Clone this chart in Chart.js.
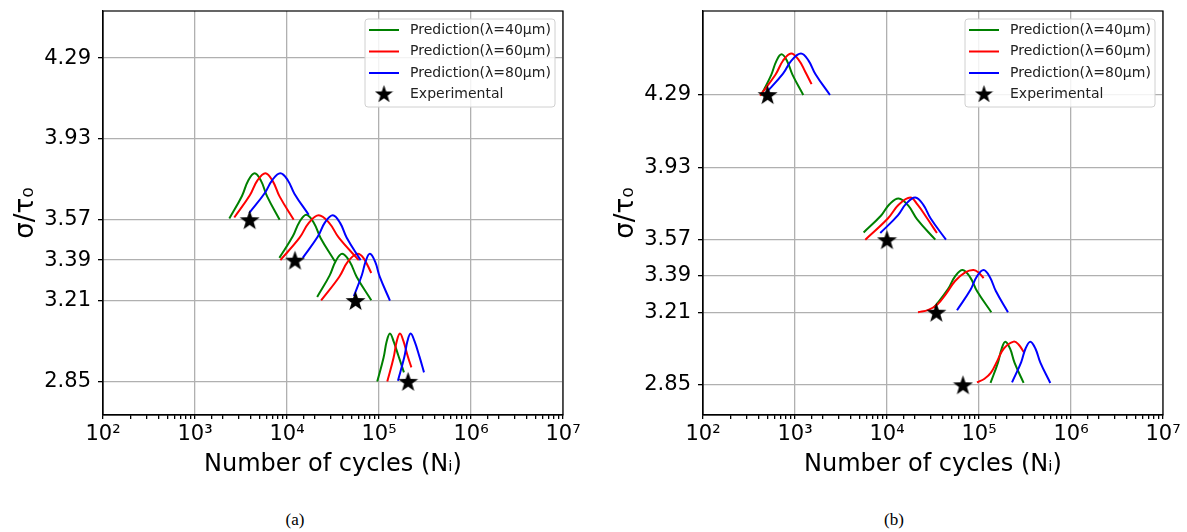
<!DOCTYPE html>
<html>
<head>
<meta charset="utf-8">
<script src="https://cdn.jsdelivr.net/npm/chart.js@4.4.1/dist/chart.umd.min.js"></script>
<style>
  body { margin: 0; background: #fff; }
  .wrap { position: absolute; top: 0; width: 593px; height: 482px; }
  .cap { position: absolute; top: 510px; font-family: "Liberation Serif", serif; font-size: 17px; color: #000; transform: translateX(-50%); }
</style>
</head>
<body>
<div class="wrap" style="left:0"><canvas id="chartA" width="593" height="482"></canvas></div>
<div class="wrap" style="left:600px"><canvas id="chartB" width="593" height="482"></canvas></div>
<div class="cap" style="left:295px">(a)</div>
<div class="cap" style="left:894px">(b)</div>
<script>
// Tick labels and legend text
const yTicks = [2.85, 3.21, 3.39, 3.57, 3.93, 4.29];
const seriesLabels = ['Prediction(λ=40μm)', 'Prediction(λ=60μm)', 'Prediction(λ=80μm)'];
const starLabel = 'Experimental';

// (a) experimental points
const aStarN = [3.93e3, 1.22e4, 5.56e4, 2.07e5];
const aStarS = [3.57, 3.39, 3.21, 2.85];

// (a) predicted curves, one per stress level, points are [N, sigma/tau0]
const aGreen = [
  [[2.36e3, 3.575], [3.24e3, 3.676], [3.77e3, 3.743], [4.45e3, 3.777], [5.24e3, 3.742], [6.08e3, 3.674], [8.32e3, 3.57]],
  [[8.26e3, 3.40], [1.156e4, 3.496], [1.361e4, 3.559], [1.622e4, 3.592], [1.954e4, 3.557], [2.317e4, 3.489], [3.311e4, 3.385]],
  [[2.128e4, 3.226], [2.911e4, 3.322], [3.381e4, 3.385], [3.981e4, 3.418], [4.808e4, 3.383], [5.728e4, 3.315], [8.241e4, 3.211]],
  [[9.57e4, 2.849], [1.122e5, 2.956], [1.211e5, 3.027], [1.315e5, 3.063], [1.445e5, 3.027], [1.622e5, 2.965], [1.866e5, 2.89]]
];
const aRed = [
  [[2.673e3, 3.58], [3.945e3, 3.679], [4.753e3, 3.744], [5.821e3, 3.777], [6.998e3, 3.742], [8.299e3, 3.674], [1.183e4, 3.57]],
  [[8.47e3, 3.39], [1.371e4, 3.49], [1.726e4, 3.556], [2.213e4, 3.59], [2.871e4, 3.556], [3.656e4, 3.49], [6.026e4, 3.39]],
  [[2.35e4, 3.211], [3.69e4, 3.315], [4.581e4, 3.383], [5.794e4, 3.418], [6.761e4, 3.40], [8.241e4, 3.333]],
  [[1.23e5, 2.849], [1.442e5, 2.956], [1.556e5, 3.027], [1.69e5, 3.063], [1.841e5, 3.03], [2.042e5, 2.965], [2.249e5, 2.912]]
];
const aBlue = [
  [[3.89e3, 3.60], [5.74e3, 3.689], [6.92e3, 3.747], [8.47e3, 3.777], [1.019e4, 3.746], [1.208e4, 3.685], [1.722e4, 3.592]],
  [[1.483e4, 3.40], [2.163e4, 3.495], [2.588e4, 3.558], [3.148e4, 3.59], [3.776e4, 3.556], [4.457e4, 3.49], [6.31e4, 3.39]],
  [[5.333e4, 3.23], [6.516e4, 3.324], [7.178e4, 3.386], [7.962e4, 3.418], [9.078e4, 3.383], [1.023e5, 3.314], [1.315e5, 3.21]],
  [[1.607e5, 2.853], [1.884e5, 2.958], [2.032e5, 3.027], [2.208e5, 3.063], [2.427e5, 3.03], [2.754e5, 2.96], [3.083e5, 2.89]]
];

// (b) experimental points
const bStarN = [504, 1.0e4, 3.44e4, 6.7e4];
const bStarS = [4.29, 3.57, 3.21, 2.85];

// (b) predicted curves
const bGreen = [
  [[427, 4.285], [552, 4.388], [625, 4.455], [714, 4.49], [822, 4.456], [938, 4.389], [1230, 4.288]],
  [[5.57e3, 3.606], [8.63e3, 3.69], [1.064e4, 3.746], [1.337e4, 3.775], [1.698e4, 3.74], [2.118e4, 3.672], [3.35e4, 3.57]],
  [[3.214e4, 3.231], [4.624e4, 3.326], [5.495e4, 3.388], [6.637e4, 3.42], [8.0e4, 3.384], [9.506e4, 3.315], [1.361e5, 3.21]],
  [[1.334e5, 2.859], [1.607e5, 2.96], [1.762e5, 3.029], [1.932e5, 3.064], [2.178e5, 3.029], [2.432e5, 2.96], [3.055e5, 2.859]]
];
const bRed = [
  [[417, 4.285], [615, 4.39], [740, 4.458], [906, 4.494], [1096, 4.463], [1288, 4.405], [1514, 4.342]],
  [[5.81e3, 3.57], [1.021e4, 3.675], [1.337e4, 3.743], [1.791e4, 3.779], [2.138e4, 3.745], [2.692e4, 3.68], [3.491e4, 3.603]],
  [[2.173e4, 3.21], [2.818e4, 3.222], [3.548e4, 3.25], [4.365e4, 3.30], [5.495e4, 3.365], [7.079e4, 3.408], [8.73e4, 3.42], [1.0e5, 3.405], [1.122e5, 3.379]],
  [[9.506e4, 2.862], [1.148e5, 2.88], [1.349e5, 2.91], [1.585e5, 2.97], [1.862e5, 3.03], [2.38e5, 3.064], [2.692e5, 3.05], [3.09e5, 3.01]]
];
const bBlue = [
  [[472, 4.293], [741, 4.394], [918, 4.46], [1161, 4.494], [1403, 4.459], [1671, 4.391], [2399, 4.288]],
  [[8.45e3, 3.603], [1.312e4, 3.691], [1.618e4, 3.749], [2.032e4, 3.779], [2.483e4, 3.743], [2.985e4, 3.675], [4.375e4, 3.57]],
  [[5.768e4, 3.22], [8.054e4, 3.32], [9.441e4, 3.386], [1.122e5, 3.42], [1.315e5, 3.384], [1.524e5, 3.315], [2.065e5, 3.21]],
  [[2.286e5, 2.862], [2.877e5, 2.963], [3.206e5, 3.03], [3.614e5, 3.064], [4.111e5, 3.029], [4.645e5, 2.96], [5.957e5, 2.859]]
];

const colors = ['#008000', '#ff0000', '#0000ff'];
const FONT = "'DejaVu Sans', sans-serif";
const sup = { 2: '²', 3: '³', 4: '⁴', 5: '⁵', 6: '⁶', 7: '⁷' };

// filled star marker
function makeStar(size) {
  const c = document.createElement('canvas');
  c.width = size; c.height = size;
  const g = c.getContext('2d');
  const r = size / 2, ri = r * 0.4;
  g.beginPath();
  for (let i = 0; i < 10; i++) {
    const rad = i % 2 === 0 ? r : ri;
    const a = -Math.PI / 2 + i * Math.PI / 5;
    const px = r + rad * Math.cos(a), py = r + 1 + rad * Math.sin(a);
    if (i === 0) g.moveTo(px, py); else g.lineTo(px, py);
  }
  g.closePath();
  g.fillStyle = '#000';
  g.fill();
  return c;
}
const starImg = makeStar(21);
const legendStar = makeStar(19);

function isDecade(v) {
  const l = Math.log10(v);
  return Math.abs(l - Math.round(l)) < 1e-6;
}

// box around the plot area
const frame = {
  id: 'frame',
  afterDatasetsDraw(chart) {
    const { ctx, chartArea: a } = chart;
    ctx.save();
    ctx.strokeStyle = '#000';
    ctx.lineWidth = 1.2;
    ctx.strokeRect(a.left, a.top, a.right - a.left, a.bottom - a.top);
    ctx.restore();
  }
};

// legend inside the top right corner
const innerLegend = {
  id: 'innerLegend',
  afterDraw(chart) {
    const { ctx, chartArea: a } = chart;
    const w = 190, h = 88;
    const x0 = a.right - 8 - w, y0 = a.top + 8;
    ctx.save();
    ctx.beginPath();
    ctx.roundRect(x0, y0, w, h, 3);
    ctx.fillStyle = 'rgba(255,255,255,0.85)';
    ctx.fill();
    ctx.strokeStyle = '#d0d0d0';
    ctx.lineWidth = 1;
    ctx.stroke();
    ctx.font = '14px ' + FONT;
    ctx.textBaseline = 'middle';
    const rows = [11, 32.5, 54, 75];
    seriesLabels.forEach((lab, i) => {
      const y = y0 + rows[i];
      ctx.strokeStyle = colors[i];
      ctx.lineWidth = 2;
      ctx.beginPath();
      ctx.moveTo(x0 + 4, y);
      ctx.lineTo(x0 + 34, y);
      ctx.stroke();
      ctx.fillStyle = '#222';
      ctx.fillText(lab, x0 + 45, y);
    });
    const ys = y0 + rows[3];
    ctx.drawImage(legendStar, x0 + 19 - 9.5, ys - 10);
    ctx.fillStyle = '#222';
    ctx.fillText(starLabel, x0 + 45, ys);
    ctx.restore();
  }
};

function makeChart(id, green, red, blue, starN, starS, yMin, yMax) {
  const datasets = [];
  datasets.push({
    data: starN.map((n, i) => ({ x: n, y: starS[i] })),
    showLine: false,
    pointStyle: starImg,
    pointRadius: 10,
    order: 0
  });
  [green, red, blue].forEach((group, k) => {
    group.forEach(curve => {
      datasets.push({
        data: curve.map(p => ({ x: p[0], y: p[1] })),
        borderColor: colors[k],
        borderWidth: 2,
        pointRadius: 0,
        fill: false,
        tension: 0.4,
        order: 3 - k
      });
    });
  });

  new Chart(document.getElementById(id), {
    type: 'line',
    data: { datasets: datasets },
    options: {
      responsive: false,
      animation: false,
      devicePixelRatio: 1,
      layout: { padding: { top: 8, right: 30, left: 0, bottom: 0 } },
      plugins: { legend: { display: false }, tooltip: { enabled: false } },
      scales: {
        x: {
          type: 'logarithmic',
          min: 100,
          max: 1e7,
          afterFit: s => { s.height = 67; s.paddingLeft = 0; s.paddingRight = 0; },
          grid: {
            color: c => (c.tick && isDecade(c.tick.value)) ? '#b0b0b0' : 'rgba(0,0,0,0)',
            lineWidth: 1.3,
            tickColor: '#000',
            tickLength: 4
          },
          border: { color: '#000', width: 1.2 },
          ticks: {
            autoSkip: false,
            maxRotation: 0,
            padding: 3,
            color: '#000',
            font: { family: FONT, size: 21 },
            callback: v => isDecade(v) ? '10' + sup[Math.round(Math.log10(v))] : ''
          },
          title: {
            display: true,
            text: 'Number of cycles (Nᵢ)',
            color: '#000',
            font: { family: FONT, size: 24 },
            padding: { top: 0, bottom: 3 }
          }
        },
        y: {
          type: 'linear',
          min: yMin,
          max: yMax,
          afterBuildTicks: s => { s.ticks = yTicks.map(v => ({ value: v })); },
          afterFit: s => { s.width = 103; s.paddingTop = 0; s.paddingBottom = 0; },
          grid: { color: '#b0b0b0', lineWidth: 1.3, tickColor: '#000', tickLength: 5 },
          border: { color: '#000', width: 1.2 },
          ticks: {
            padding: 7,
            color: '#000',
            font: { family: FONT, size: 21 },
            callback: v => v.toFixed(2)
          },
          title: {
            display: true,
            text: 'σ/τ₀',
            color: '#000',
            font: { family: FONT, size: 26 },
            padding: { top: 11, bottom: 0 }
          }
        }
      }
    },
    plugins: [frame, innerLegend]
  });
}

makeChart('chartA', aGreen, aRed, aBlue, aStarN, aStarS, 2.70, 4.50);
makeChart('chartB', bGreen, bRed, bBlue, bStarN, bStarS, 2.70, 4.705);
</script>
</body>
</html>
